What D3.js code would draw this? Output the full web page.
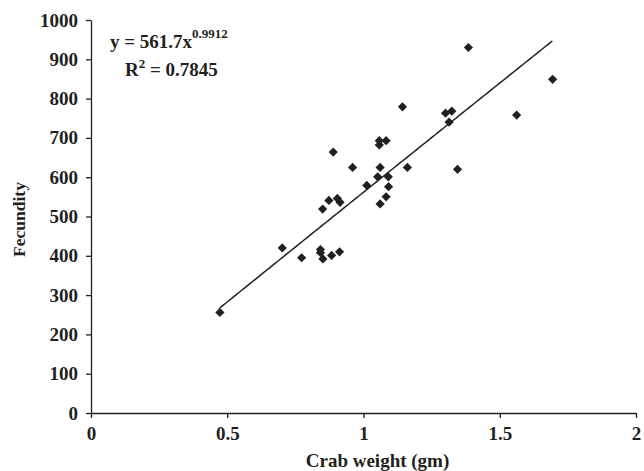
<!DOCTYPE html>
<html>
<head>
<meta charset="utf-8">
<script src="https://cdn.jsdelivr.net/npm/d3@7"></script>
<style>
  body { margin: 0; background: #fff; }
  svg text { font-family: "Liberation Serif", "Times New Roman", serif; font-weight: bold; fill: #231f20; }
  .axis path, .axis line { stroke: #231f20; stroke-width: 1.3px; }
</style>
</head>
<body>
<script>
// crab weight (gm) and fecundity
var weight = [0.473, 0.702, 0.773, 0.842, 0.842, 0.851, 0.883, 0.912, 0.850, 0.873, 0.904,
              0.914, 0.889, 0.960, 1.012, 1.052, 1.061, 1.058, 1.058, 1.083, 1.091, 1.092,
              1.083, 1.061, 1.161, 1.143, 1.301, 1.324, 1.314, 1.345, 1.385, 1.562, 1.694];
var fecundity = [256, 420, 395, 416, 408, 392, 401, 410, 519, 541, 546,
                 536, 664, 625, 579, 601, 625, 693, 682, 693, 601, 576,
                 550, 532, 625, 779, 763, 768, 740, 620, 930, 758, 849];
var xTicks = [0, 0.5, 1, 1.5, 2];
var yTicks = [0, 100, 200, 300, 400, 500, 600, 700, 800, 900, 1000];
// power fit y = a * x^b
var fitA = 561.7, fitB = 0.9912;

var margin = {top: 20, right: 8, bottom: 58, left: 91},
    width = 644 - margin.left - margin.right,
    height = 471 - margin.top - margin.bottom;

var svg = d3.select("body").append("svg")
    .attr("width", 644)
    .attr("height", 471)
  .append("g")
    .attr("transform", "translate(" + margin.left + "," + margin.top + ")");

var x = d3.scaleLinear().domain([0, 2]).range([0, width]);
var y = d3.scaleLinear().domain([0, 1000]).range([height, 0]);

// x axis
var gx = svg.append("g")
    .attr("class", "axis")
    .attr("transform", "translate(0," + height + ")")
    .call(d3.axisBottom(x).tickValues(xTicks).tickFormat(d3.format("")).tickSize(5).tickSizeOuter(0));
gx.selectAll("text").style("font-size", "19px").attr("y", 10).attr("dy", "0.9em");

// y axis
var gy = svg.append("g")
    .attr("class", "axis")
    .call(d3.axisLeft(y).tickValues(yTicks).tickFormat(d3.format("d")).tickSize(5).tickSizeOuter(0));
gy.selectAll("text").style("font-size", "19px").attr("x", -13);

// trend line
var xs = d3.range(d3.min(weight), d3.max(weight) + 0.0001, 0.01);
var line = d3.line()
    .x(function(d) { return x(d); })
    .y(function(d) { return y(fitA * Math.pow(d, fitB)); });
svg.append("path")
    .datum(xs)
    .attr("fill", "none")
    .attr("stroke", "#231f20")
    .attr("stroke-width", 1.5)
    .attr("d", line);

// points
var diamond = "M0,-4.6L4.6,0L0,4.6L-4.6,0Z";
svg.selectAll(".pt")
    .data(weight)
    .enter().append("path")
    .attr("class", "pt")
    .attr("d", diamond)
    .attr("fill", "#231f20")
    .attr("transform", function(d, i) { return "translate(" + x(d) + "," + y(fecundity[i]) + ")"; });

// equation
var eq = svg.append("text")
    .attr("x", 19)
    .attr("y", 28)
    .style("font-size", "19px");
eq.append("tspan").text("y = " + fitA + "x");
eq.append("tspan").attr("dy", -10).style("font-size", "13px").text(fitB);

var r2 = svg.append("text")
    .attr("x", 34)
    .attr("y", 56)
    .style("font-size", "19px");
r2.append("tspan").text("R");
r2.append("tspan").attr("dy", -8).style("font-size", "13px").text("2");
r2.append("tspan").attr("dy", 8).text(" = 0.7845");

// axis titles
svg.append("text")
    .attr("x", width / 2 + 14)
    .attr("y", height + 54)
    .attr("text-anchor", "middle")
    .style("font-size", "19px")
    .text("Crab weight (gm)");

svg.append("text")
    .attr("transform", "translate(" + (-66) + "," + (height / 2 + 3) + ") rotate(-90)")
    .attr("text-anchor", "middle")
    .style("font-size", "17.5px")
    .text("Fecundity");
</script>
</body>
</html>
